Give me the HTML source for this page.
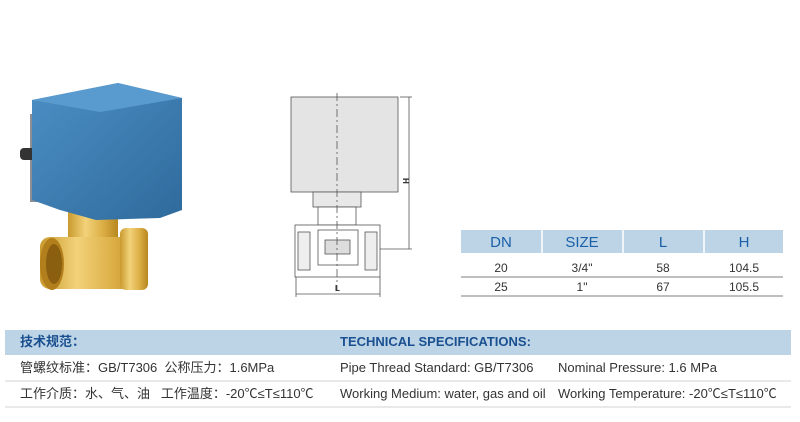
<!DOCTYPE html>
<html><head><meta charset="utf-8"><style>
body{margin:0;width:800px;height:422px;background:#fff;overflow:hidden;position:relative;font-family:"Liberation Sans","Noto Sans CJK SC",sans-serif;}
.t{position:absolute;white-space:nowrap;line-height:16px;height:16px;}
</style></head><body>
<svg width="800" height="422" style="position:absolute;left:0;top:0">
<defs>
<linearGradient id="br" x1="0" x2="1"><stop offset="0" stop-color="#c99a2e"/><stop offset=".35" stop-color="#f2d27a"/><stop offset=".7" stop-color="#dcae45"/><stop offset="1" stop-color="#b8871f"/></linearGradient>
<linearGradient id="bl" x1="0" x2="1" y1="0" y2="1"><stop offset="0" stop-color="#4c8fc4"/><stop offset="1" stop-color="#2f6a9c"/></linearGradient>
</defs>
<rect x="30" y="114" width="32" height="88" fill="#8f8f93"/>
<rect x="20" y="148" width="20" height="12" rx="4" fill="#333"/>
<rect x="38" y="135" width="5" height="55" fill="#222"/>
<rect x="68" y="212" width="50" height="25" fill="url(#br)"/>
<rect x="40" y="237" width="105" height="52" rx="10" fill="url(#br)"/>
<rect x="120" y="228" width="28" height="62" rx="6" fill="url(#br)"/>
<ellipse cx="52" cy="264" rx="12" ry="26" fill="#b27f1c"/>
<ellipse cx="54" cy="264" rx="8" ry="20" fill="#8a5f10"/>
<polygon points="32,100 118,83 182,98 182,210 160,218 96,220 60,210 32,200" fill="url(#bl)"/>
<polygon points="32,100 118,83 182,98 100,112" fill="#5a9bcf"/>
<g stroke="#555" fill="none" stroke-width=".8">
<rect x="291" y="97" width="107" height="95" fill="#e4e4e4"/>
<rect x="313" y="192" width="48" height="15" fill="#e8e8e8"/>
<rect x="318" y="207" width="38" height="18" fill="#fff"/>
<rect x="295" y="225" width="85" height="52" fill="#fff"/>
<rect x="298" y="232" width="12" height="38" fill="#eee"/>
<rect x="365" y="232" width="12" height="38" fill="#eee"/>
<rect x="318" y="230" width="40" height="35"/>
<rect x="325" y="240" width="25" height="14" fill="#ddd"/>
<line x1="337" y1="93" x2="337" y2="290" stroke-dasharray="8 3 2 3"/>
<line x1="400" y1="97" x2="412" y2="97"/><line x1="380" y1="249" x2="412" y2="249"/>
<line x1="409" y1="97" x2="409" y2="249"/>
<line x1="296" y1="277" x2="296" y2="297"/><line x1="380" y1="277" x2="380" y2="297"/>
<line x1="296" y1="294" x2="380" y2="294"/>
</g>
<text x="403" y="178" font-size="8" font-family="Liberation Sans" font-weight="bold" transform="rotate(90 403 178)" fill="#222">H</text>
<text x="335" y="291" font-size="8" font-family="Liberation Sans" font-weight="bold" fill="#222">L</text>
<rect x="461" y="230" width="322" height="23" fill="#bcd4e6"/>
<g stroke="#fff" stroke-width="1.5"><line x1="542" y1="230" x2="542" y2="253"/><line x1="623" y1="230" x2="623" y2="253"/><line x1="704" y1="230" x2="704" y2="253"/></g>
<line x1="461" y1="277" x2="783" y2="277" stroke="#555" stroke-width=".8"/>
<line x1="461" y1="296" x2="783" y2="296" stroke="#555" stroke-width=".8"/>
<g font-family="Liberation Sans" text-anchor="middle">
<g fill="#1a5fa8" font-size="15"><text x="501" y="247">DN</text><text x="582" y="247">SIZE</text><text x="663" y="247">L</text><text x="744" y="247">H</text></g>
<g fill="#333" font-size="12"><text x="501" y="272">20</text><text x="582" y="272">3/4"</text><text x="663" y="272">58</text><text x="744" y="272">104.5</text>
<text x="501" y="291">25</text><text x="582" y="291">1"</text><text x="663" y="291">67</text><text x="744" y="291">105.5</text></g>
</g>
<rect x="5" y="330" width="786" height="25" fill="#bcd4e6"/>
<line x1="5" y1="381" x2="791" y2="381" stroke="#e2e2e2" stroke-width="1.5"/>
<line x1="5" y1="407" x2="791" y2="407" stroke="#e2e2e2" stroke-width="1.5"/>
</svg>
<div class="t" style="left:20px;top:334px;font-size:13px;font-weight:bold;color:#1a4f90">技术规范：</div>
<div class="t" style="left:340px;top:334px;font-size:13px;font-weight:bold;color:#1a4f90">TECHNICAL SPECIFICATIONS:</div>
<div class="t" style="left:20px;top:360px;font-size:13px;color:#333">管螺纹标准：GB/T7306&nbsp; 公称压力：1.6MPa</div>
<div class="t" style="left:340px;top:360px;font-size:13px;color:#333">Pipe Thread Standard: GB/T7306</div>
<div class="t" style="left:558px;top:360px;font-size:13px;color:#333">Nominal Pressure: 1.6 MPa</div>
<div class="t" style="left:20px;top:386px;font-size:13px;color:#333">工作介质：水、气、油&nbsp;&nbsp; 工作温度：-20℃≤T≤110℃</div>
<div class="t" style="left:340px;top:386px;font-size:13px;color:#333">Working Medium: water, gas and oil</div>
<div class="t" style="left:558px;top:386px;font-size:13px;color:#333">Working Temperature: -20℃≤T≤110℃</div>
</body></html>
